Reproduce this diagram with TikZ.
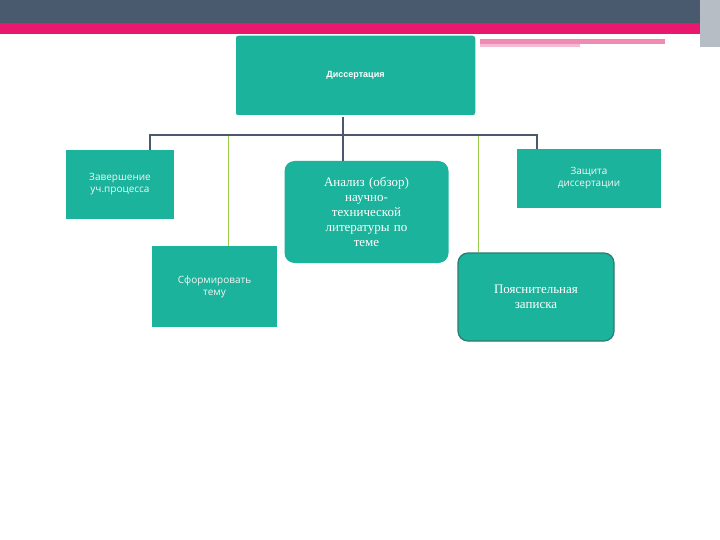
\documentclass[tikz,border=0pt]{standalone}
\usepackage{fontspec}
\setmainfont{Liberation Serif}
\newfontfamily\boxsans{Open Sans}
\newfontfamily\rootsans{Liberation Sans}
\usepackage{xcolor}
\usepackage{tikz}
\definecolor{slate}{HTML}{4A5A6E}
\definecolor{magenta}{HTML}{E8186E}
\definecolor{lightpink}{HTML}{F08CB4}
\definecolor{teal}{HTML}{1BB39C}
\definecolor{darkteal}{HTML}{2C7A70}
\definecolor{lime}{HTML}{9BCB4A}
\tikzset{
  sqbox/.style={fill=teal, draw=none, text=white!92!gray, font=\boxsans\fontsize{10}{12}\selectfont, align=center, inner sep=2pt},
  rbox/.style={fill=teal, rounded corners=10pt, text=white, font=\fontsize{13}{15}\selectfont, align=center, inner sep=2pt},
  bus/.style={draw=slate, line width=1.2pt},
  stem/.style={draw=lime, line width=1pt}
}
\begin{document}
\begin{tikzpicture}[x=1pt,y=-1pt]

\useasboundingbox (0,0) rectangle (720,540);

% top bars
\fill[slate] (0,0) rectangle (700,23);
\fill[magenta] (0,23) rectangle (700,34);
\fill[lightpink] (480,39) rectangle (665,44);
\fill[lightpink!60] (480,44) rectangle (580,47);
\fill[slate!40] (700,0) rectangle (720,47);

% root
\node[fill=teal, draw=white, line width=1.5pt, rounded corners=3pt, minimum width=241pt, minimum height=81pt,
      text=white, font=\rootsans\bfseries\fontsize{9}{11}\selectfont] (diss) at (355.5,75.5) {Диссертация};

% children
\node[sqbox, minimum width=108pt, minimum height=69pt] (zav) at (120,184.5) {Завершение\\уч.процесса};
\node[sqbox, minimum width=125pt, minimum height=81pt] (tema) at (214.5,286.5) {Сформировать\\тему};
\node[rbox, text width=160pt, minimum height=102pt] (anal) at (366.5,212) {Анализ (обзор)\\научно-\\технической\\литературы по\\теме};
\node[sqbox, minimum width=144pt, minimum height=59pt] (zash) at (589,178.5) {Защита\\диссертации};
\node[rbox, draw=darkteal, line width=1.2pt, minimum width=156pt, minimum height=88pt] (zap) at (536,297) {Пояснительная\\записка};

% connectors
\coordinate (bus) at (343,135);
\draw[bus] (diss.south -| bus) -- (bus);
\draw[bus] (zav.north -| 150,0) -- (150,135) -- (537,135) -- (zash.north -| 537,0);
\draw[bus] (bus) -- (anal.north -| bus);
\draw[stem] (228,136) -- (tema.north -| 228,0);
\draw[stem] (478,136) -- (zap.north -| 478,0);

\end{tikzpicture}
\end{document}
